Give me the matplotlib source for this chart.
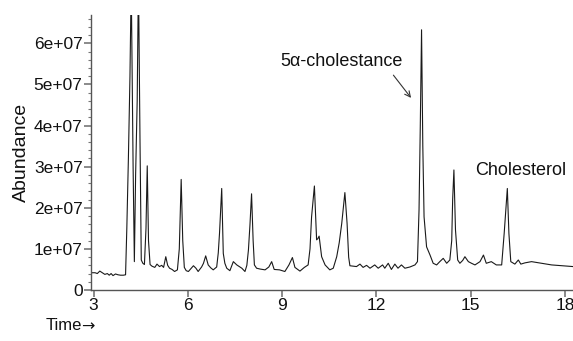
import numpy as np
import matplotlib
matplotlib.use("Agg")
import matplotlib.pyplot as plt
from matplotlib.ticker import MultipleLocator, FuncFormatter

plt.rcParams['font.family'] = ['Liberation Sans', 'DejaVu Sans']

# Chromatogram trace vertices (time in minutes, abundance in units of 1e7)
time_min = [2.93, 3.05, 3.12, 3.20, 3.28, 3.36, 3.44, 3.50, 3.56, 3.62, 3.70, 3.78, 3.86, 3.95,
            4.02, 4.06, 4.11, 4.16, 4.20, 4.26, 4.30, 4.34, 4.39, 4.43, 4.48, 4.52, 4.57, 4.62,
            4.67, 4.71, 4.75, 4.80, 4.86, 4.95, 5.02, 5.10, 5.17, 5.23, 5.30, 5.36, 5.42, 5.50,
            5.58, 5.67, 5.73, 5.79, 5.84, 5.89, 5.95, 6.02, 6.10, 6.18, 6.26, 6.33, 6.44, 6.50,
            6.57, 6.65, 6.73, 6.81, 6.92, 6.97, 7.01, 7.08, 7.13, 7.18, 7.24, 7.34, 7.45, 7.56,
            7.64, 7.72, 7.82, 7.88, 7.93, 7.98, 8.03, 8.08, 8.12, 8.19, 8.30, 8.46, 8.58, 8.67,
            8.75, 8.92, 9.09, 9.22, 9.33, 9.41, 9.57, 9.71, 9.83, 9.89, 9.94, 10.03, 10.10, 10.14,
            10.18, 10.26, 10.37, 10.52, 10.63, 10.74, 10.82, 10.90, 11.00, 11.07, 11.12, 11.16,
            11.37, 11.48, 11.58, 11.69, 11.80, 11.95, 12.06, 12.20, 12.27, 12.38, 12.48, 12.59,
            12.69, 12.80, 12.91, 13.07, 13.23, 13.31, 13.36, 13.40, 13.44, 13.48, 13.52, 13.60,
            13.71, 13.81, 13.92, 14.02, 14.13, 14.24, 14.34, 14.40, 14.43, 14.47, 14.52, 14.59,
            14.66, 14.75, 14.82, 14.93, 15.03, 15.14, 15.30, 15.41, 15.50, 15.66, 15.82, 15.99,
            16.07, 16.17, 16.22, 16.28, 16.41, 16.52, 16.60, 16.73, 16.94, 17.26, 17.58, 17.90,
            18.26]
abundance_e7 = [0.42, 0.42, 0.40, 0.46, 0.42, 0.38, 0.40, 0.36, 0.40, 0.35, 0.39, 0.37, 0.36, 0.36,
                0.37, 1.50, 3.20, 5.20, 7.50, 3.00, 0.69, 2.80, 4.60, 7.60, 3.60, 0.73, 0.65, 0.62,
                1.50, 3.02, 1.20, 0.62, 0.58, 0.55, 0.63, 0.57, 0.60, 0.55, 0.81, 0.60, 0.53, 0.50,
                0.45, 0.49, 1.00, 2.69, 1.20, 0.55, 0.47, 0.45, 0.52, 0.59, 0.53, 0.45, 0.56, 0.65,
                0.83, 0.61, 0.54, 0.49, 0.56, 0.90, 1.38, 2.47, 0.89, 0.65, 0.53, 0.47, 0.69, 0.61,
                0.57, 0.53, 0.45, 0.60, 0.97, 1.60, 2.34, 1.20, 0.61, 0.53, 0.51, 0.49, 0.56, 0.69,
                0.50, 0.49, 0.45, 0.61, 0.79, 0.55, 0.46, 0.55, 0.61, 1.00, 1.78, 2.53, 1.22, 1.25,
                1.31, 0.81, 0.61, 0.49, 0.53, 0.81, 1.15, 1.62, 2.37, 1.62, 0.80, 0.59,
                0.57, 0.63, 0.55, 0.60, 0.53, 0.61, 0.53, 0.61, 0.53, 0.65, 0.50, 0.63,
                0.53, 0.61, 0.53, 0.56, 0.61, 0.69, 1.95, 4.00, 6.33, 3.50, 1.78, 1.05,
                0.85, 0.65, 0.61, 0.69, 0.77, 0.65, 0.73, 1.20, 2.20, 2.92, 1.46, 0.73,
                0.65, 0.72, 0.81, 0.69, 0.65, 0.61, 0.69, 0.85, 0.65, 0.69, 0.61, 0.61,
                1.38, 2.47, 1.38, 0.69, 0.63, 0.73, 0.63, 0.66, 0.69, 0.65, 0.61, 0.59,
                0.57]

x_ticks = [3, 6, 9, 12, 15, 18]
y_ticks = [0, 1e7, 2e7, 3e7, 4e7, 5e7, 6e7]

t = np.array(time_min)
a = np.array(abundance_e7) * 1e7

fig = plt.figure(figsize=(5.73, 3.41), dpi=100)
ax = fig.add_axes([91/573, 1 - 290/341, 1 - 91/573, (290 - 15)/341])

ax.plot(t, a, color='#1a1a1a', lw=0.8)

ax.set_xlim(2.92, 18.26)
ax.set_ylim(0, 6.69e7)
ax.set_xticks(x_ticks)
ax.set_yticks(y_ticks)
ax.yaxis.set_minor_locator(MultipleLocator(2e6))
ax.yaxis.set_major_formatter(FuncFormatter(lambda v, p: '0' if v == 0 else f'{v:.0e}'))

for s in ['top', 'right']:
    ax.spines[s].set_visible(False)
for s in ['left', 'bottom']:
    ax.spines[s].set_color('#555555')
    ax.spines[s].set_linewidth(1.0)

ax.tick_params(axis='both', which='major', labelsize=12.5, length=5, width=1.2,
               color='#777777', labelcolor='#111111', pad=1)
ax.tick_params(axis='y', which='minor', length=2, width=0.8, color='#777777')

ax.set_ylabel('Abundance', fontsize=14, color='#111111', labelpad=3)
fig.text(46/573, 1 - 326/341, 'Time', fontsize=12, color='#111111',
         va='center', ha='left')
fig.text(81.5/573, 1 - 327/341, '\u2192', fontsize=11.5, color='#111111',
         va='center', ha='left', family='DejaVu Sans')

ax.text(8.93, 5.55e7, '5\u03b1-cholestance', fontsize=13, color='#111111',
        va='center', ha='left')
ax.annotate('', xy=(13.16, 4.62e7), xytext=(12.49, 5.28e7),
            arrowprops=dict(arrowstyle='->', color='#333333', lw=0.8))
ax.text(15.14, 2.9e7, 'Cholesterol', fontsize=13, color='#111111',
        va='center', ha='left')

fig.savefig('out.png', dpi=100)
